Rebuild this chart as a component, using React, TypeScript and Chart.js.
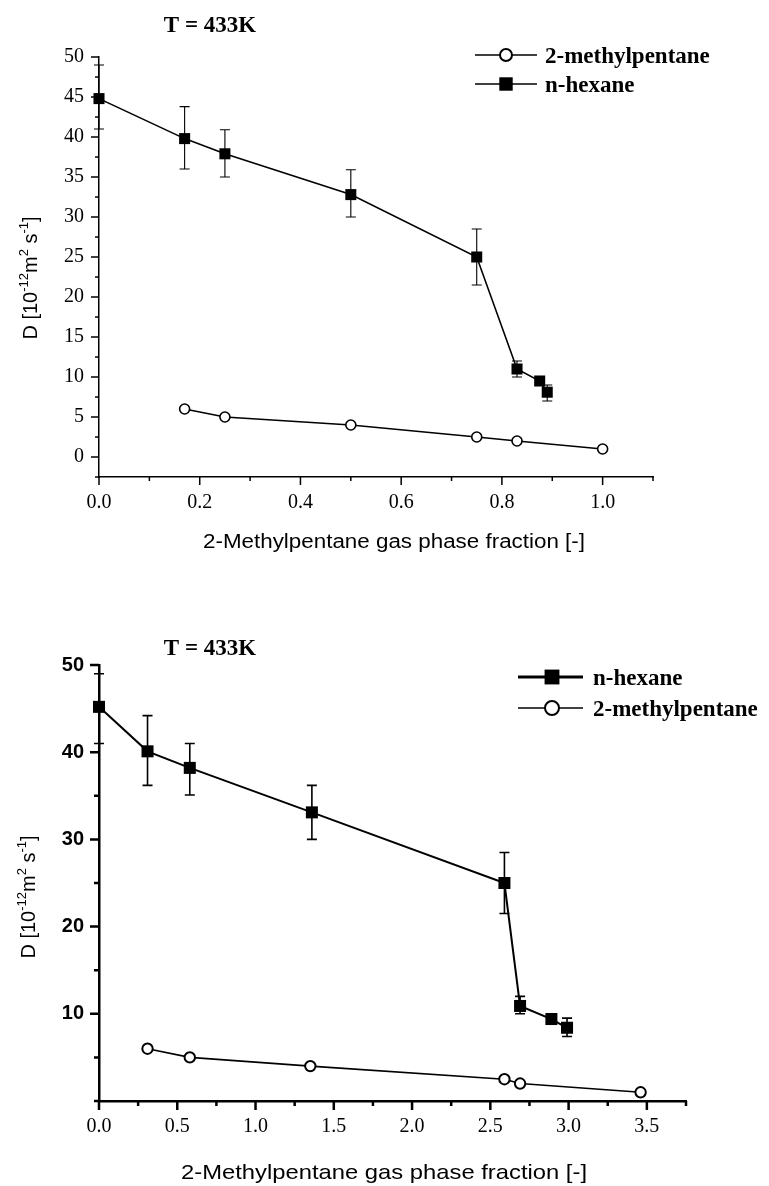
import React, { useEffect, useRef } from "react";
import { Chart, registerables } from "chart.js";

Chart.register(...registerables);

// ---------- text ----------
const PLOT_TITLE = "T = 433K";
const X_TITLE = "2-Methylpentane gas phase fraction [-]";
const HEX_LABEL = "n-hexane";
const MP_LABEL = "2-methylpentane";
const Y_TITLE_PARTS = [
  { t: "D [10", sup: false },
  { t: "-12", sup: true },
  { t: "m", sup: false },
  { t: "2", sup: true },
  { t: " s", sup: false },
  { t: "-1", sup: true },
  { t: "]", sup: false },
];

// ---------- top chart data ----------
const topHexX = [0, 0.17, 0.25, 0.5, 0.75, 0.83, 0.875, 0.89];
const topHexY = [44.8, 39.8, 37.9, 32.8, 25, 11, 9.5, 8.1];
const topHexLo = [41, 36, 35, 30, 21.5, 10, null, 7];
const topHexHi = [49, 43.8, 40.9, 35.9, 28.5, 12, null, 9];
const topMpX = [0.17, 0.25, 0.5, 0.75, 0.83, 1.0];
const topMpY = [6, 5, 4, 2.5, 2, 1];

// ---------- bottom chart data ----------
const botHexX = [0, 0.31, 0.58, 1.36, 2.59, 2.69, 2.89, 2.99];
const botHexY = [45.2, 40.1, 38.2, 33.1, 25, 10.9, 9.4, 8.4];
const botHexLo = [41, 36.2, 35.1, 30, 21.5, 10, null, 7.4];
const botHexHi = [49, 44.2, 41, 36.2, 28.5, 12, null, 9.5];
const botMpX = [0.31, 0.58, 1.35, 2.59, 2.69, 3.46];
const botMpY = [6, 5, 4, 2.5, 2, 1];

const SERIF = "'Liberation Serif', 'Times New Roman', serif";
const SANS = "'Liberation Sans', Arial, sans-serif";

type Spec = {
  height: number;
  padding: { top: number; right: number; bottom: number; left: number };
  xMin: number; xMax: number; xStep: number; xMajor: (v: number) => boolean;
  yMin: number; yMax: number; yStep: number; yMajor: (v: number) => boolean; yLabel: (v: number) => string;
  axisWidth: number;
  xTickFont: any; yTickFont: any;
  tickMajor: number; tickMinor: number;
  hexX: number[]; hexY: number[]; hexLo: (number | null)[]; hexHi: (number | null)[];
  mpX: number[]; mpY: number[];
  hexLineW: number; mpLineW: number; rectR: number; circR: number; circBorder: number;
  errW: number; cap: number;
  title: { x: number; y: number };
  xTitle: { cx: number; y: number; size: number; width: number };
  yTitle: { x: number; cy: number };
  legend: { x1: number; x2: number; mx: number; tx: number; rows: { kind: string; y: number; lw: number; r: number }[] };
};

function drawYTitle(ctx: CanvasRenderingContext2D, bx: number, cy: number) {
  const big = `20px ${SANS}`;
  const small = `13px ${SANS}`;
  ctx.save();
  let total = 0;
  const widths: number[] = [];
  Y_TITLE_PARTS.forEach((p) => {
    ctx.font = p.sup ? small : big;
    const w = ctx.measureText(p.t).width;
    widths.push(w);
    total += w;
  });
  ctx.translate(bx, cy);
  ctx.rotate(-Math.PI / 2);
  ctx.fillStyle = "#000";
  ctx.textBaseline = "alphabetic";
  ctx.textAlign = "left";
  let x = -total / 2;
  Y_TITLE_PARTS.forEach((p, i) => {
    ctx.font = p.sup ? small : big;
    ctx.fillText(p.t, x, p.sup ? -9 : 0);
    x += widths[i];
  });
  ctx.restore();
}

function drawMarker(ctx: CanvasRenderingContext2D, kind: string, x: number, y: number, r: number, bw: number) {
  ctx.beginPath();
  if (kind === "rect") {
    const s = r * Math.SQRT1_2;
    ctx.rect(x - s, y - s, 2 * s, 2 * s);
    ctx.fillStyle = "#000";
    ctx.fill();
  } else {
    ctx.arc(x, y, r, 0, Math.PI * 2);
    ctx.fillStyle = "#fff";
    ctx.fill();
    ctx.lineWidth = bw;
    ctx.strokeStyle = "#000";
    ctx.stroke();
  }
}

function makePlugin(spec: Spec) {
  return {
    id: "paperDecor",
    beforeDatasetsDraw(chart: any) {
      const ctx: CanvasRenderingContext2D = chart.ctx;
      const xs = chart.scales.x;
      const ys = chart.scales.y;
      ctx.save();
      ctx.strokeStyle = "#000";
      ctx.lineWidth = spec.errW;
      spec.hexX.forEach((xv, i) => {
        const lo = spec.hexLo[i];
        const hi = spec.hexHi[i];
        if (lo == null || hi == null) return;
        const px = xs.getPixelForValue(xv);
        const pl = ys.getPixelForValue(lo);
        const ph = ys.getPixelForValue(hi);
        ctx.beginPath();
        ctx.moveTo(px, pl);
        ctx.lineTo(px, ph);
        ctx.moveTo(px - spec.cap, pl);
        ctx.lineTo(px + spec.cap, pl);
        ctx.moveTo(px - spec.cap, ph);
        ctx.lineTo(px + spec.cap, ph);
        ctx.stroke();
      });
      ctx.restore();
    },
    afterDraw(chart: any) {
      const ctx: CanvasRenderingContext2D = chart.ctx;
      const xs = chart.scales.x;
      const ys = chart.scales.y;
      ctx.save();
      // tick marks (major long, minor short)
      ctx.strokeStyle = "#000";
      ctx.lineWidth = spec.axisWidth;
      ctx.beginPath();
      xs.ticks.forEach((t: any) => {
        const px = xs.getPixelForValue(t.value);
        const len = spec.xMajor(t.value) ? spec.tickMajor : spec.tickMinor;
        ctx.moveTo(px, xs.top);
        ctx.lineTo(px, xs.top + len);
      });
      ys.ticks.forEach((t: any) => {
        const py = ys.getPixelForValue(t.value);
        const len = spec.yMajor(t.value) ? spec.tickMajor : spec.tickMinor;
        ctx.moveTo(ys.right, py);
        ctx.lineTo(ys.right - len, py);
      });
      ctx.stroke();

      // plot title
      ctx.fillStyle = "#000";
      ctx.font = `bold 23px ${SERIF}`;
      ctx.textAlign = "center";
      ctx.textBaseline = "alphabetic";
      ctx.fillText(PLOT_TITLE, spec.title.x, spec.title.y);

      // x-axis title (slightly wide lettering as in the source)
      ctx.font = `${spec.xTitle.size}px ${SANS}`;
      const w = ctx.measureText(X_TITLE).width;
      const sx = spec.xTitle.width / w;
      ctx.save();
      ctx.translate(spec.xTitle.cx, spec.xTitle.y);
      ctx.scale(sx, 1);
      ctx.textAlign = "center";
      ctx.fillText(X_TITLE, 0, 0);
      ctx.restore();

      // y-axis title
      drawYTitle(ctx, spec.yTitle.x, spec.yTitle.cy);

      // legend
      const L = spec.legend;
      L.rows.forEach((row) => {
        ctx.strokeStyle = "#000";
        ctx.lineWidth = row.lw;
        ctx.beginPath();
        ctx.moveTo(L.x1, row.y);
        ctx.lineTo(L.x2, row.y);
        ctx.stroke();
        drawMarker(ctx, row.kind, L.mx, row.y, row.r, 2);
        ctx.fillStyle = "#000";
        ctx.font = `bold 23px ${SERIF}`;
        ctx.textAlign = "left";
        ctx.textBaseline = "alphabetic";
        ctx.fillText(row.kind === "rect" ? HEX_LABEL : MP_LABEL, L.tx, row.y + 8);
      });
      ctx.restore();
    },
  };
}

function buildConfig(spec: Spec): any {
  const hexData = spec.hexX.map((x, i) => ({ x, y: spec.hexY[i] }));
  const mpData = spec.mpX.map((x, i) => ({ x, y: spec.mpY[i] }));
  return {
    type: "line",
    data: {
      datasets: [
        {
          label: HEX_LABEL,
          data: hexData,
          borderColor: "#000",
          borderWidth: spec.hexLineW,
          pointStyle: "rect",
          pointRadius: spec.rectR,
          pointBackgroundColor: "#000",
          pointBorderColor: "#000",
          pointBorderWidth: 0,
          tension: 0,
          clip: false,
        },
        {
          label: MP_LABEL,
          data: mpData,
          borderColor: "#000",
          borderWidth: spec.mpLineW,
          pointStyle: "circle",
          pointRadius: spec.circR,
          pointBackgroundColor: "#fff",
          pointBorderColor: "#000",
          pointBorderWidth: spec.circBorder,
          tension: 0,
          clip: false,
        },
      ],
    },
    options: {
      animation: false,
      responsive: false,
      maintainAspectRatio: false,
      devicePixelRatio: 1,
      layout: { padding: spec.padding },
      plugins: { legend: { display: false }, title: { display: false }, tooltip: { enabled: false } },
      events: [],
      scales: {
        x: {
          type: "linear",
          position: "bottom",
          min: spec.xMin,
          max: spec.xMax,
          afterFit: (s: any) => { s.height = 45; },
          border: { display: true, color: "#000", width: spec.axisWidth },
          grid: { display: true, drawOnChartArea: false, drawTicks: true, tickLength: 8, tickColor: "rgba(0,0,0,0)" },
          ticks: {
            stepSize: spec.xStep,
            autoSkip: false,
            maxRotation: 0,
            minRotation: 0,
            padding: 6,
            color: "#000",
            font: spec.xTickFont,
            callback: (v: any) => (spec.xMajor(Number(v)) ? Number(v).toFixed(1) : ""),
          },
        },
        y: {
          type: "linear",
          position: "left",
          min: spec.yMin,
          max: spec.yMax,
          afterFit: (s: any) => { s.width = 99; },
          border: { display: true, color: "#000", width: spec.axisWidth },
          grid: { display: true, drawOnChartArea: false, drawTicks: true, tickLength: 8, tickColor: "rgba(0,0,0,0)" },
          ticks: {
            stepSize: spec.yStep,
            autoSkip: false,
            padding: 7,
            color: "#000",
            font: spec.yTickFont,
            callback: (v: any) => spec.yLabel(Number(v)),
          },
        },
      },
    },
    plugins: [makePlugin(spec)],
  };
}

const near = (a: number, b: number) => Math.abs(a - b) < 1e-6;

const topSpec: Spec = {
  height: 580,
  padding: { top: 57, right: 116, bottom: 58, left: 0 },
  xMin: 0, xMax: 1.1, xStep: 0.1,
  xMajor: (v) => near(Math.round(v * 10) % 2, 0),
  yMin: -2.5, yMax: 50, yStep: 2.5,
  yMajor: (v) => v >= 0 && near(v % 5, 0),
  yLabel: (v) => (v >= 0 && near(v % 5, 0) ? String(v) : ""),
  axisWidth: 1.5,
  xTickFont: { family: SERIF, size: 20 },
  yTickFont: { family: SERIF, size: 20 },
  tickMajor: 8, tickMinor: 4,
  hexX: topHexX, hexY: topHexY, hexLo: topHexLo, hexHi: topHexHi,
  mpX: topMpX, mpY: topMpY,
  hexLineW: 1.6, mpLineW: 1.6, rectR: 7.8, circR: 5, circBorder: 1.6,
  errW: 1.1, cap: 5,
  title: { x: 210, y: 32 },
  xTitle: { cx: 394, y: 548, size: 20, width: 382 },
  yTitle: { x: 37, cy: 278 },
  legend: {
    x1: 475, x2: 537, mx: 506, tx: 545,
    rows: [
      { kind: "circle", y: 55, lw: 1.3, r: 6 },
      { kind: "rect", y: 84, lw: 1.3, r: 9.5 },
    ],
  },
};

const botSpec: Spec = {
  height: 596,
  padding: { top: 75, right: 83, bottom: 40, left: 0 },
  xMin: 0, xMax: 3.75, xStep: 0.25,
  xMajor: (v) => near(Math.round(v * 4) % 2, 0),
  yMin: 0, yMax: 50, yStep: 5,
  yMajor: (v) => v > 0 && near(v % 10, 0),
  yLabel: (v) => (v > 0 && near(v % 10, 0) ? String(v) : ""),
  axisWidth: 2.5,
  xTickFont: { family: SERIF, size: 20 },
  yTickFont: { family: SANS, size: 20, weight: "bold" },
  tickMajor: 9, tickMinor: 5,
  hexX: botHexX, hexY: botHexY, hexLo: botHexLo, hexHi: botHexHi,
  mpX: botMpX, mpY: botMpY,
  hexLineW: 2, mpLineW: 1.6, rectR: 8.5, circR: 5.2, circBorder: 2,
  errW: 1.6, cap: 5,
  title: { x: 210, y: 65 },
  xTitle: { cx: 384, y: 589, size: 21, width: 406 },
  yTitle: { x: 35, cy: 307 },
  legend: {
    x1: 518, x2: 583, mx: 552, tx: 593,
    rows: [
      { kind: "rect", y: 87, lw: 3, r: 10.5 },
      { kind: "circle", y: 118, lw: 1.5, r: 7 },
    ],
  },
};

function PaperChart({ spec, top }: { spec: Spec; top: number }) {
  const ref = useRef<HTMLCanvasElement | null>(null);
  useEffect(() => {
    if (!ref.current) return;
    const chart = new Chart(ref.current, buildConfig(spec));
    return () => chart.destroy();
  }, [spec]);
  return (
    <canvas
      ref={ref}
      width={769}
      height={spec.height}
      style={{ position: "absolute", left: 0, top, width: 769, height: spec.height, display: "block" }}
    />
  );
}

export default function App() {
  return (
    <div style={{ position: "absolute", left: 0, top: 0, width: 769, height: 1186, background: "#fff", overflow: "hidden" }}>
      <PaperChart spec={topSpec} top={0} />
      <PaperChart spec={botSpec} top={590} />
    </div>
  );
}
